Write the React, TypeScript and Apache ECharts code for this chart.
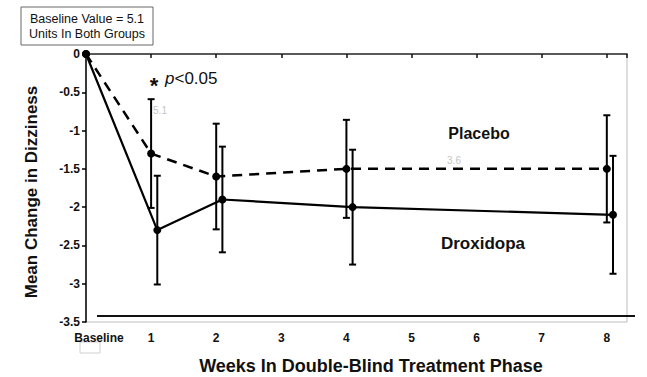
import React, { useEffect, useRef } from "react";
import * as echarts from "echarts";

const weeks = [0, 1, 2, 4, 8];
const placeboMean = [0, -1.3, -1.6, -1.5, -1.5];
const placeboErr = [0, 0.71, 0.69, 0.64, 0.7];
const droxMean = [0, -2.3, -1.9, -2.0, -2.1];
const droxErr = [0, 0.71, 0.69, 0.75, 0.77];
const droxShift = 0.095;
const xLabels = ["Baseline", "1", "2", "3", "4", "5", "6", "7", "8"];
const yMin = -3.5;
const yMax = 0;
const yStep = 0.5;

const FONT = '"Liberation Sans", Arial, sans-serif';

export default function App() {
  const ref = useRef<HTMLDivElement>(null);
  useEffect(() => {
    if (!ref.current) return;
    const chart = echarts.init(ref.current, undefined, { renderer: "svg" });

    const placeboPts = weeks.map((w, i) => [w, placeboMean[i]]);
    const droxPts = weeks.map((w, i) => [w === 0 ? 0 : w + droxShift, droxMean[i]]);
    const errData: number[][] = [];
    weeks.forEach((w, i) => {
      if (placeboErr[i] > 0) errData.push([w, placeboMean[i] - placeboErr[i], placeboMean[i] + placeboErr[i]]);
      if (droxErr[i] > 0) errData.push([w + droxShift, droxMean[i] - droxErr[i], droxMean[i] + droxErr[i]]);
    });

    const option: any = {
      animation: false,
      textStyle: { fontFamily: FONT },
      grid: {
        left: 86,
        right: 20,
        top: 54,
        bottom: 55,
        outerBoundsMode: "none",
        containLabel: false,
        show: true,
        borderColor: "#bdbdbd",
        borderWidth: 1,
        backgroundColor: "transparent",
      },
      xAxis: [
        {
          type: "value",
          min: 0,
          max: 8.31,
          interval: 1,
          position: "bottom",
          axisLine: { show: true, lineStyle: { color: "#c8c8c8", width: 1.5 } },
          axisTick: { show: false },
          splitLine: { show: false },
          axisLabel: {
            margin: 10,
            color: "#111",
            fontWeight: "bold",
            fontSize: 12,
            fontFamily: FONT,
            formatter: (v: number) => {
              if (Math.abs(v - Math.round(v)) > 1e-6 || v > 8) return "";
              const s = xLabels[Math.round(v)];
              return v === 0 ? "{b|" + s + "}" : s;
            },
            rich: {
              b: { padding: [0, 0, 0, 26], fontWeight: "bold", fontSize: 12, color: "#111", fontFamily: FONT },
            },
          },
          name: "Weeks In Double-Blind Treatment Phase",
          nameLocation: "middle",
          nameGap: 35,
          nameTextStyle: {
            fontWeight: "bold",
            fontSize: 18,
            color: "#111",
            fontFamily: FONT,
            padding: [0, 0, 0, 29],
          },
        },
        {
          type: "value",
          min: 0,
          max: 8.31,
          interval: 1,
          position: "top",
          axisLine: { show: true, lineStyle: { color: "#333", width: 1.5 } },
          axisTick: { show: true, inside: true, length: 4, lineStyle: { color: "#111", width: 1.5 } },
          axisLabel: { show: false },
          splitLine: { show: false },
        },
      ],
      yAxis: {
        type: "value",
        min: yMin,
        max: yMax,
        interval: yStep,
        axisLine: { show: true, lineStyle: { color: "#000", width: 1.5 } },
        axisTick: { show: true, length: 4, lineStyle: { color: "#000", width: 1.5 } },
        splitLine: { show: false },
        axisLabel: {
          margin: 6,
          color: "#111",
          fontWeight: "bold",
          fontSize: 12,
          fontFamily: FONT,
          formatter: (v: number) => String(Math.round(v * 10) / 10),
        },
        name: "Mean Change in Dizziness",
        nameLocation: "middle",
        nameGap: 46,
        nameTextStyle: {
          fontWeight: "bold",
          fontSize: 17,
          color: "#111",
          fontFamily: FONT,
          padding: [0, 8, 0, 0],
        },
      },
      series: [
        {
          type: "custom",
          name: "errors",
          data: errData,
          z: 3,
          renderItem: (params: any, api: any) => {
            const x = api.value(0);
            const top = api.coord([x, api.value(2)]);
            const bot = api.coord([x, api.value(1)]);
            const half = 3.5;
            const style = { stroke: "#000", lineWidth: 2 };
            return {
              type: "group",
              children: [
                { type: "line", shape: { x1: top[0], y1: top[1], x2: bot[0], y2: bot[1] }, style },
                { type: "line", shape: { x1: top[0] - half, y1: top[1], x2: top[0] + half, y2: top[1] }, style },
                { type: "line", shape: { x1: bot[0] - half, y1: bot[1], x2: bot[0] + half, y2: bot[1] }, style },
              ],
            };
          },
        },
        {
          type: "line",
          name: "Placebo",
          data: placeboPts,
          symbol: "circle",
          symbolSize: 8,
          z: 4,
          lineStyle: { color: "#000", width: 2.5, type: [10, 7] },
          itemStyle: { color: "#000" },
        },
        {
          type: "line",
          name: "Droxidopa",
          data: droxPts,
          symbol: "circle",
          symbolSize: 8,
          z: 4,
          lineStyle: { color: "#000", width: 2.2 },
          itemStyle: { color: "#000" },
        },
      ],
      graphic: [
        {
          type: "rect",
          shape: { x: 21, y: 7, width: 132, height: 38 },
          style: { fill: "#fff", stroke: "#666", lineWidth: 1 },
        },
        {
          type: "text",
          x: 87,
          y: 19,
          style: { text: "Baseline Value = 5.1", font: "12.5px " + FONT, fill: "#111", align: "center", verticalAlign: "middle" },
        },
        {
          type: "text",
          x: 87,
          y: 34,
          style: { text: "Units In Both Groups", font: "12.5px " + FONT, fill: "#111", align: "center", verticalAlign: "middle" },
        },
        {
          type: "text",
          x: 154,
          y: 85,
          style: { text: "*", font: "bold 22px " + FONT, fill: "#111", align: "center", verticalAlign: "middle" },
        },
        {
          type: "text",
          x: 165,
          y: 78,
          style: {
            text: "{p|p}{t|<0.05}",
            verticalAlign: "middle",
            rich: {
              p: { font: "italic 17px " + FONT, fill: "#111" },
              t: { font: "17px " + FONT, fill: "#111" },
            },
          },
        },
        {
          type: "text",
          x: 479,
          y: 133,
          style: { text: "Placebo", font: "bold 16px " + FONT, fill: "#111", align: "center", verticalAlign: "middle" },
        },
        {
          type: "text",
          x: 483,
          y: 243,
          style: { text: "Droxidopa", font: "bold 17px " + FONT, fill: "#111", align: "center", verticalAlign: "middle" },
        },
        {
          type: "text",
          x: 160,
          y: 110,
          style: { text: "5.1", font: "10px " + FONT, fill: "#c4c4c4", align: "center", verticalAlign: "middle" },
        },
        {
          type: "text",
          x: 454,
          y: 160,
          style: { text: "3.6", font: "10px " + FONT, fill: "#c4c4c4", align: "center", verticalAlign: "middle" },
        },
        {
          type: "line",
          shape: { x1: 97, y1: 316, x2: 635, y2: 316 },
          style: { stroke: "#111", lineWidth: 2 },
        },
        {
          type: "rect",
          shape: { x: 80, y: 342, width: 20, height: 11 },
          style: { fill: "none", stroke: "#d0d0d0", lineWidth: 1 },
        },
      ],
    };
    chart.setOption(option);
    return () => chart.dispose();
  }, []);
  return <div ref={ref} style={{ width: 647, height: 377, position: "fixed", left: 0, top: 0, background: "#fff" }} />;
}
